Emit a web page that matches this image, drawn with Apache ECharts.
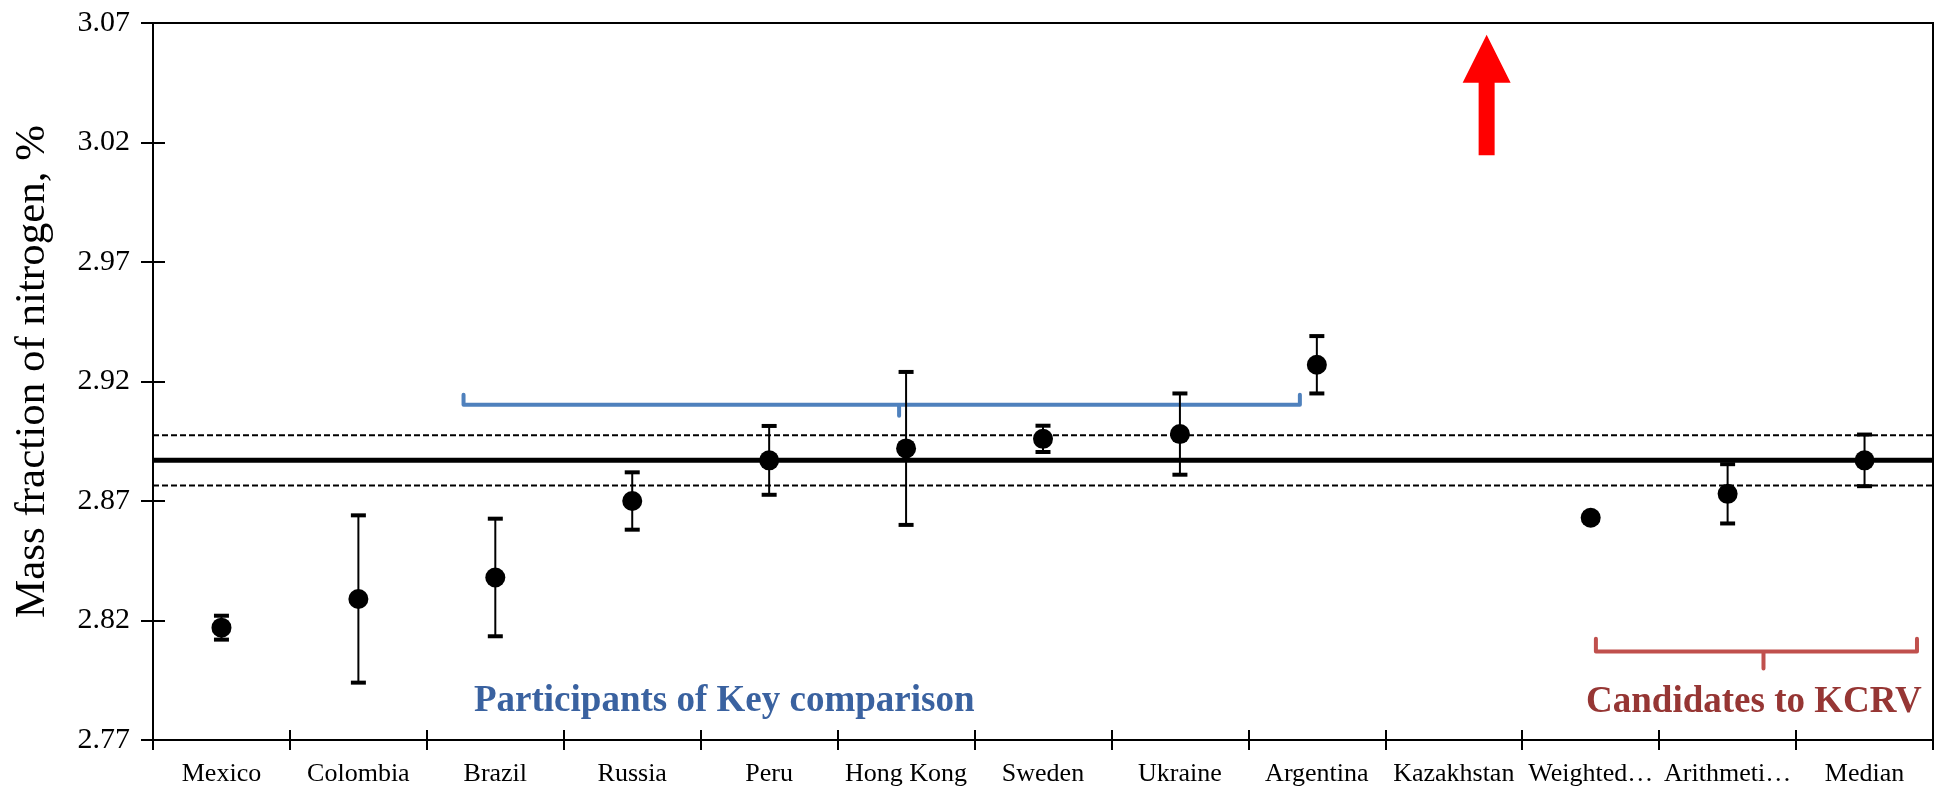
<!DOCTYPE html>
<html>
<head>
<meta charset="utf-8">
<title>Mass fraction of nitrogen</title>
<script src="https://cdn.jsdelivr.net/npm/echarts@6/dist/echarts.min.js"></script>
<style>
  html, body { margin: 0; padding: 0; background: #fff; }
  #chart { width: 1934px; height: 790px; }
</style>
</head>
<body>
<div id="chart"></div>
<script>
// Participants and KCRV candidates along the x axis
const categories = ['Mexico', 'Colombia', 'Brazil', 'Russia', 'Peru', 'Hong Kong', 'Sweden',
  'Ukraine', 'Argentina', 'Kazakhstan', 'Weighted mean', 'Arithmetic mean', 'Median'];

// Reported mass fraction of nitrogen, % (Kazakhstan lies above the plotted range)
const massFraction = [2.817, 2.829, 2.838, 2.870, 2.887, 2.892, 2.896, 2.898, 2.927, null, 2.863, 2.873, 2.887];

// Expanded uncertainty of each result, %
const uncertainty = [0.005, 0.035, 0.0246, 0.012, 0.0144, 0.032, 0.0055, 0.017, 0.012, null, 0.002, 0.0124, 0.0108];

// Key comparison reference value and its uncertainty band
const kcrv = 2.887;
const kcrvUncertainty = 0.0105;

// Y-axis tick values
const yTicks = [2.77, 2.82, 2.87, 2.92, 2.97, 3.02, 3.07];

// Off-scale result marker (value axis runs 0..13 across the categories)
const offScaleArrow = { x: 9.74, from: 3.0147, to: 3.0651 };

// Brace spans in category units: participants and KCRV candidates
const participantsBrace = { from: 2.268, to: 8.376, mid: 5.449, level: 2.9103, tip: 2.9145, notch: 2.9057 };
const candidatesBrace = { from: 10.538, to: 12.883, mid: 11.762, level: 2.8070, tip: 2.8124, notch: 2.7999 };

const serif = "'Liberation Serif', 'Times New Roman', serif";

function bracePoints(b) {
  return [
    [b.from, b.tip], [b.from, b.level], [b.mid, b.level], [b.mid, b.notch],
    [b.mid, b.level], [b.to, b.level], [b.to, b.tip]
  ];
}

// Horizontal line across the full width of the plot
function hLine(value) {
  return [[0, value], [categories.length, value]];
}

const pointData = massFraction.map((v, i) => (v == null ? null : [i, v]));
const errorData = massFraction
  .map((v, i) => (v == null ? null : [i, v, uncertainty[i]]))
  .filter(d => d !== null);

const chart = echarts.init(document.getElementById('chart'), null, { renderer: 'canvas' });

chart.setOption({
  animation: false,
  backgroundColor: '#fff',
  grid: {
    left: 153, right: 1, top: 23, bottom: 50,
    show: true, borderColor: '#000', borderWidth: 2, backgroundColor: 'transparent'
  },
  xAxis: [
    {
      type: 'category',
      data: categories,
      boundaryGap: true,
      axisLine: { show: true, lineStyle: { color: '#000', width: 2 } },
      axisTick: { show: true, interval: 0, length: 10, lineStyle: { color: '#000', width: 2 } },
      axisLabel: {
        interval: 0, fontFamily: serif, fontSize: 26, color: '#000', margin: 21,
        width: 130, overflow: 'truncate', ellipsis: '…'
      },
      splitLine: { show: false }
    },
    {
      type: 'category',
      data: categories,
      position: 'bottom',
      boundaryGap: true,
      axisLine: { show: false },
      axisTick: { show: true, inside: true, interval: 0, length: 10, lineStyle: { color: '#000', width: 2 } },
      axisLabel: { show: false },
      splitLine: { show: false }
    },
    {
      type: 'value',
      min: 0,
      max: categories.length,
      show: false
    }
  ],
  yAxis: [
    {
      type: 'value',
      min: yTicks[0],
      max: yTicks[yTicks.length - 1],
      interval: 0.05,
      name: 'Mass fraction of nitrogen, %',
      nameLocation: 'middle',
      nameRotate: 90,
      nameGap: 99,
      nameTextStyle: { fontFamily: serif, fontSize: 43, color: '#000', padding: [0, 0, 0, 20] },
      axisLine: { show: true, lineStyle: { color: '#000', width: 2 } },
      axisTick: { show: true, length: 12, lineStyle: { color: '#000', width: 2 } },
      axisLabel: { fontFamily: serif, fontSize: 30, color: '#000', margin: 23, formatter: v => v.toFixed(2) },
      splitLine: { show: false }
    },
    {
      type: 'value',
      position: 'left',
      min: yTicks[0],
      max: yTicks[yTicks.length - 1],
      interval: 0.05,
      axisLine: { show: false },
      axisTick: { show: true, inside: true, length: 12, lineStyle: { color: '#000', width: 2 } },
      axisLabel: { show: false },
      splitLine: { show: false }
    }
  ],
  graphic: [
    {
      type: 'text', x: 474, y: 701, z: 10,
      style: {
        text: 'Participants of Key comparison', font: 'bold 37px ' + serif,
        fill: '#3a62a0', align: 'left', verticalAlign: 'middle'
      }
    },
    {
      type: 'text', x: 1586, y: 702, z: 10,
      style: {
        text: 'Candidates to KCRV', font: 'bold 37px ' + serif,
        fill: '#963634', align: 'left', verticalAlign: 'middle'
      }
    }
  ],
  series: [
    {
      // KCRV
      type: 'line',
      xAxisIndex: 2,
      z: 1,
      data: hLine(kcrv),
      symbol: 'none',
      silent: true,
      lineStyle: { color: '#000', width: 5, type: 'solid' }
    },
    {
      // Upper limit of the KCRV uncertainty band
      type: 'line',
      xAxisIndex: 2,
      z: 1,
      data: hLine(kcrv + kcrvUncertainty),
      symbol: 'none',
      silent: true,
      lineStyle: { color: '#000', width: 2, type: [6, 3] }
    },
    {
      // Lower limit of the KCRV uncertainty band
      type: 'line',
      xAxisIndex: 2,
      z: 1,
      data: hLine(kcrv - kcrvUncertainty),
      symbol: 'none',
      silent: true,
      lineStyle: { color: '#000', width: 2, type: [6, 3] }
    },
    {
      // Error bars
      type: 'custom',
      z: 4,
      data: errorData,
      encode: { x: 0, y: 1 },
      renderItem(params, api) {
        const i = api.value(0);
        const v = api.value(1);
        const u = api.value(2);
        const top = api.coord([i, v + u]);
        const bot = api.coord([i, v - u]);
        const cw = 15, ch = 4;
        return {
          type: 'group',
          children: [
            { type: 'line', shape: { x1: top[0], y1: top[1], x2: bot[0], y2: bot[1] }, style: { stroke: '#000', lineWidth: 2 } },
            { type: 'rect', shape: { x: top[0] - cw / 2, y: top[1] - ch / 2, width: cw, height: ch }, style: { fill: '#000' } },
            { type: 'rect', shape: { x: bot[0] - cw / 2, y: bot[1] - ch / 2, width: cw, height: ch }, style: { fill: '#000' } }
          ]
        };
      }
    },
    {
      // Results
      type: 'scatter',
      z: 5,
      data: pointData,
      symbol: 'circle',
      symbolSize: 20,
      itemStyle: { color: '#000', opacity: 1 }
    },
    {
      // Off-scale result arrow
      type: 'custom',
      xAxisIndex: 2,
      z: 6,
      data: [[offScaleArrow.x, offScaleArrow.from, offScaleArrow.to]],
      encode: { x: 0, y: [1, 2] },
      renderItem(params, api) {
        const base = api.coord([api.value(0), api.value(1)]);
        const tip = api.coord([api.value(0), api.value(2)]);
        const cx = tip[0];
        const headH = 48, headW = 24, shaftW = 8;
        const yh = tip[1] + headH;
        return {
          type: 'polygon',
          shape: {
            points: [
              [cx, tip[1]], [cx + headW, yh], [cx + shaftW, yh], [cx + shaftW, base[1]],
              [cx - shaftW, base[1]], [cx - shaftW, yh], [cx - headW, yh]
            ]
          },
          style: { fill: '#ff0000' }
        };
      }
    },
    {
      // Participants brace
      type: 'line',
      xAxisIndex: 2,
      z: 3,
      data: bracePoints(participantsBrace),
      symbol: 'none',
      silent: true,
      lineStyle: { color: '#4f81bd', width: 4, cap: 'round', join: 'round' }
    },
    {
      // Candidates brace
      type: 'line',
      xAxisIndex: 2,
      z: 3,
      data: bracePoints(candidatesBrace),
      symbol: 'none',
      silent: true,
      lineStyle: { color: '#c0504d', width: 4, cap: 'round', join: 'round' }
    }
  ]
});
</script>
</body>
</html>
